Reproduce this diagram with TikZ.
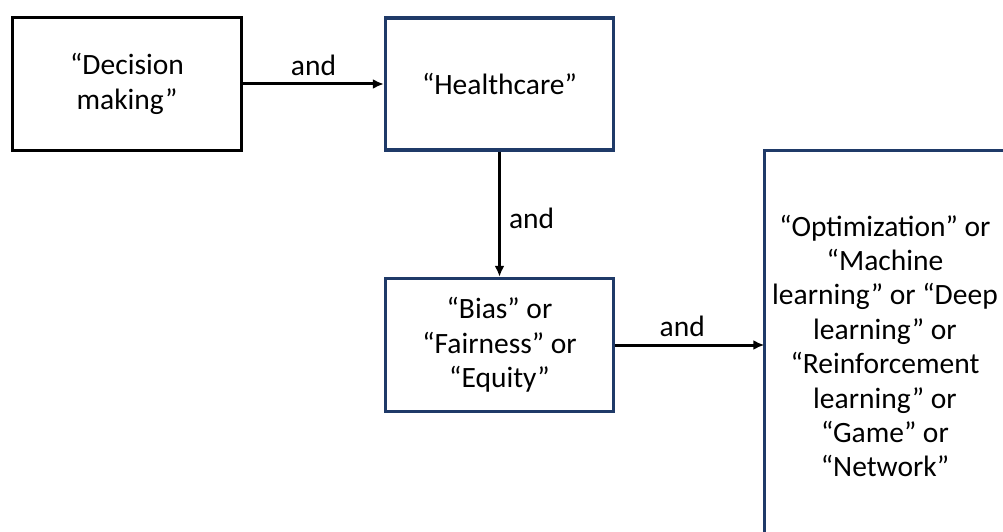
\documentclass[tikz,border=0pt]{standalone}
\usepackage{fontspec}
\setmainfont{Carlito}
\usetikzlibrary{arrows.meta}
\definecolor{navy}{HTML}{1F3A68}
\begin{document}
\begin{tikzpicture}[x=1pt,y=-1pt,
  box/.style={draw=navy,line width=3.4pt,align=center,inner sep=0pt,
    font=\fontsize{29.5}{34.4}\selectfont},
  conn/.style={line width=3pt,-{Latex[length=11pt,width=10pt]}},
  lab/.style={font=\fontsize{29.5}{34}\selectfont,inner sep=0pt}]
\useasboundingbox (0,0) rectangle (1003,532);
\begin{scope}
\clip (0,0) rectangle (1003,532);
\node[box,draw=black,minimum width=229pt,minimum height=133pt] (dm) at (127,84) {“Decision\\making”};
\node[box,minimum width=228pt,minimum height=132pt] (hc) at (499.5,84) {“Healthcare”};
\node[box,minimum width=228pt,minimum height=133pt] (bias) at (499.5,345) {“Bias” or\\“Fairness” or\\“Equity”};
\node[box,draw=none,minimum width=238pt,minimum height=388pt] (opt) at (885,346) {“Optimization” or\\“Machine\\learning” or “Deep\\learning” or\\“Reinforcement\\learning” or\\“Game” or\\“Network”};
\draw[draw=navy,line width=3.4pt] (opt.north west) rectangle ++(250,400);
\end{scope}
\draw[conn] (dm.east) -- (hc.west) node[lab,pos=0.5,above=7pt] (l1) {and};
\draw[conn] (hc.south) -- (bias.north) node[lab,pos=0.53,right=8pt] (l2) {and};
\draw[conn] (bias.east) -- (opt.west |- bias.east) node[lab,pos=0.45,above=7pt] (l3) {and};
\end{tikzpicture}
\end{document}
